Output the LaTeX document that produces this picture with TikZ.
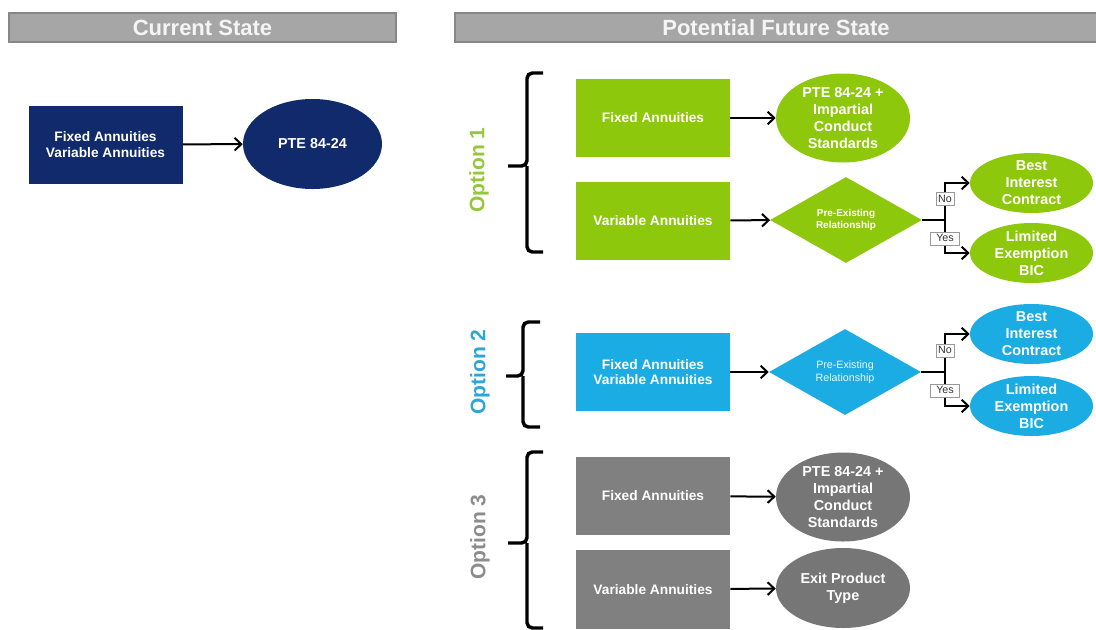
\documentclass[tikz,border=0pt]{standalone}
\usepackage{fontspec}
\setmainfont{Liberation Sans}
\usetikzlibrary{shapes.geometric,arrows.meta}
\definecolor{navy}{RGB}{16,42,108}
\definecolor{lime}{RGB}{142,200,12}
\definecolor{limetxt}{RGB}{150,198,60}
\definecolor{sky}{RGB}{27,172,228}
\definecolor{skytxt}{RGB}{45,165,215}
\definecolor{slate}{RGB}{128,128,128}
\definecolor{slatetxt}{RGB}{140,140,140}
\definecolor{hdrfill}{RGB}{166,166,166}
\definecolor{hdrline}{RGB}{135,135,135}
\begin{document}
\begin{tikzpicture}[x=0.75pt,y=-0.75pt,
 hdr/.style={draw=hdrline, line width=0.9pt, fill=hdrfill, text=white!96!black, font=\fontsize{16.5}{18}\selectfont\bfseries, minimum height=21.75pt, inner sep=0pt},
 box/.style={rectangle, minimum width=115.5pt, minimum height=58.5pt, inner sep=0pt, text=white, align=center, font=\fontsize{10.3}{11.5}\selectfont\bfseries},
 oval/.style={ellipse, minimum width=100.5pt, minimum height=66.75pt, inner sep=-6pt, text=white, align=center, font=\fontsize{10.8}{12.75}\selectfont\bfseries},
 smallov/.style={ellipse, minimum width=92.25pt, minimum height=45pt, inner sep=-6pt, text=white, align=center, font=\fontsize{10.8}{12.75}\selectfont\bfseries},
 dia/.style={diamond, aspect=1.77, minimum width=114pt, minimum height=64.5pt, inner sep=0pt, text=white, align=center, font=\fontsize{7.5}{9}\selectfont\bfseries},
 arr/.style={-{Straight Barb[length=5pt,width=9.5pt]}, line width=1.5pt},
 conn/.style={line width=1.5pt},
 lab/.style={draw=black!40, fill=white, line width=0.5pt, text=black!80, font=\fontsize{8}{9}\selectfont, inner xsep=1.6pt, inner ysep=1pt, text height=6pt, text depth=1.7pt},
 brace/.style={line width=2.6pt, rounded corners=4pt},
 opt/.style={rotate=90, font=\fontsize{15.75}{18}\selectfont\bfseries}
]
\path[use as bounding box] (0,0) rectangle (1096,629);

% headers
\node[hdr, minimum width=290.25pt] (hc) at (202.5,27.5) {Current State};
\node[hdr, minimum width=481.5pt] (hf) at (776,27.5) {Potential Future State};

% current state
\node[box, fill=navy] (cr) at (105.5,144.5) {Fixed Annuities\\Variable Annuities};
\node[oval, fill=navy, minimum width=104.25pt, minimum height=67.5pt] (ce) at (312.5,144) {PTE 84-24};
\draw[arr] (cr) -- (ce);

% option 1
\node[opt, text=limetxt] (o1) at (479,170) {Option 1};
\draw[brace] (543,73) -- (527,73) -- (527,166) -- (508,166);
\draw[brace] (543,252) -- (527,252) -- (527,166);
\node[box, fill=lime] (a1) at (653,118) {Fixed Annuities};
\node[oval, fill=lime] (a1e) at (843,118) {PTE 84-24 +\\Impartial\\Conduct\\Standards};
\node[box, fill=lime] (a2) at (653,220.5) {Variable Annuities};
\node[dia, fill=lime] (a2d) at (846,220) {Pre-Existing\\Relationship};
\node[smallov, fill=lime] (a2b) at (1031.5,183) {Best\\Interest\\Contract};
\node[smallov, fill=lime] (a2l) at (1031.5,253) {Limited\\Exemption\\BIC};
\coordinate (a2s) at (945,220);
\draw[arr] (a1) -- (a1e);
\draw[arr] (a2) -- (a2d);
\draw[conn] (a2d.east) -- (a2s);
\draw[arr] (a2s) |- node[lab,pos=0.28] (a2no) {No} (a2b.west);
\draw[arr] (a2s) |- node[lab,pos=0.28,minimum width=22pt] (a2yes) {Yes} (a2l.west);

% option 2
\node[opt, text=skytxt] (o2) at (480,372) {Option 2};
\draw[brace] (540,322) -- (523,322) -- (523,376) -- (506,376);
\draw[brace] (540,427) -- (523,427) -- (523,376);
\node[box, fill=sky] (b1) at (653,372) {Fixed Annuities\\Variable Annuities};
\node[dia, fill=sky, text=white!92!sky, font=\fontsize{8}{10}\selectfont] (b1d) at (845,372) {Pre-Existing\\Relationship};
\node[smallov, fill=sky] (b1b) at (1031.5,334) {Best\\Interest\\Contract};
\node[smallov, fill=sky] (b1l) at (1031.5,406) {Limited\\Exemption\\BIC};
\coordinate (b1s) at (945,372);
\draw[arr] (b1) -- (b1d);
\draw[conn] (b1d.east) -- (b1s);
\draw[arr] (b1s) |- node[lab,pos=0.28] (b1no) {No} (b1b.west);
\draw[arr] (b1s) |- node[lab,pos=0.28,minimum width=22pt] (b1yes) {Yes} (b1l.west);

% option 3
\node[opt, text=slatetxt] (o3) at (480,537) {Option 3};
\draw[brace] (543,452) -- (527,452) -- (527,543) -- (508,543);
\draw[brace] (543,628) -- (527,628) -- (527,543);
\node[box, fill=slate] (c1) at (653,496) {Fixed Annuities};
\node[oval, fill=slate!92!black] (c1e) at (843,497) {PTE 84-24 +\\Impartial\\Conduct\\Standards};
\node[box, fill=slate, minimum height=59.25pt] (c2) at (653,589.5) {Variable Annuities};
\node[oval, fill=slate!92!black, minimum height=60pt] (c2e) at (843,588) {Exit Product\\Type};
\draw[arr] (c1) -- (c1e);
\draw[arr] (c2) -- (c2e);
\end{tikzpicture}
\end{document}
